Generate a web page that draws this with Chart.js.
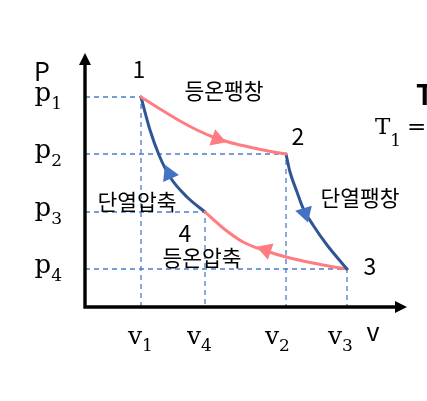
<!DOCTYPE html>
<html><head><meta charset="utf-8">
<script src="https://cdn.jsdelivr.net/npm/chart.js@4/dist/chart.umd.min.js"></script>
<style>html,body{margin:0;padding:0;background:#fff;}canvas{display:block}</style>
</head><body>
<canvas id="c" width="427" height="401"></canvas>
<script>
// ---- data (arbitrary units) ----
const volumeTickNames = ['1', '4', '2', '3'];
const volumeTicks = [5.6, 12.0, 20.1, 26.2];          // v1, v4, v2, v3
const pressureTickNames = ['1', '2', '3', '4'];
const pressureTicks = [21.0, 15.3, 9.5, 3.8];         // p1..p4

const stateNames = ['1', '2', '3', '4'];
const stateV = [5.6, 20.1, 26.2, 12.0];
const stateP = [21.0, 15.3, 3.8, 9.5];

const processNames = ['등온팽창', '단열팽창', '등온압축', '단열압축'];

const isoExpV = [5.6, 7.5, 9.5, 11.2, 12.8, 14.5, 16.2, 17.8, 20.1];
const isoExpP = [21.0, 19.8, 18.6, 17.7, 17.0, 16.45, 16.05, 15.7, 15.3];
const adiExpV = [20.1, 20.5, 21.2, 21.8, 22.8, 24.2, 26.2];
const adiExpP = [15.3, 13.5, 11.5, 9.9, 8.2, 6.2, 3.8];
const isoCmpV = [26.2, 23.8, 20.5, 17.8, 15.8, 13.8, 12.0];
const isoCmpP = [3.8, 4.2, 4.9, 5.7, 6.5, 7.9, 9.5];
const adiCmpV = [12.0, 10.2, 8.5, 7.4, 6.5, 5.6];
const adiCmpP = [9.5, 11.0, 13.0, 15.2, 17.7, 21.0];

// direction markers on each process
const arrowV = [13.2, 22.0, 18.1, 8.4];
const arrowP = [16.8, 9.4, 5.7, 13.3];
const arrowHeading = [109, 163, 289, 336];

// ---- styles ----
const RED = '#FF7C80', BLUE = '#2F5597', ARROWBLUE = '#4472C4', GUIDE = '#4A7EC8';
const SANS = '"Noto Sans CJK KR", "Noto Sans", sans-serif';
const SERIF = '"DejaVu Serif", serif';

const pts = (xs, ys) => xs.map((x, i) => ({x: x, y: ys[i]}));

const datasets = [];
datasets.push({
  data: pts(arrowV, arrowP), showLine: false, order: 0,
  pointStyle: 'triangle', pointRadius: 10, pointRotation: arrowHeading,
  pointBackgroundColor: [RED, ARROWBLUE, RED, ARROWBLUE], pointBorderWidth: 0, pointBorderColor: 'rgba(0,0,0,0)'
});
[[isoExpV, isoExpP, RED], [adiExpV, adiExpP, BLUE], [isoCmpV, isoCmpP, RED], [adiCmpV, adiCmpP, BLUE]].forEach(c => {
  datasets.push({data: pts(c[0], c[1]), showLine: true, borderColor: c[2], borderWidth: 3,
    cubicInterpolationMode: 'monotone', pointRadius: 0, fill: false, order: 1, borderCapStyle: 'round'});
});
for (let i = 0; i < stateV.length; i++) {
  datasets.push({
    data: [{x: 0, y: stateP[i]}, {x: stateV[i], y: stateP[i]}, {x: stateV[i], y: 0}],
    showLine: true, borderColor: GUIDE, borderWidth: 1.3, borderDash: [5, 4],
    tension: 0, pointRadius: 0, fill: false, order: 2
  });
}

function drawSub(ctx, base, sub, x, y, subDy, mainFont, subFont, align) {
  ctx.font = mainFont; const w1 = ctx.measureText(base).width;
  ctx.font = subFont; const w2 = ctx.measureText(sub).width;
  let x0 = x;
  if (align === 'right') x0 = x - w1 - w2;
  if (align === 'center') x0 = x - (w1 + w2) / 2;
  ctx.textAlign = 'left'; ctx.textBaseline = 'alphabetic';
  ctx.font = mainFont; ctx.fillText(base, x0, y);
  ctx.font = subFont; ctx.fillText(sub, x0 + w1, y + subDy);
}

const overlay = {
  id: 'overlay',
  afterDatasetsDraw(chart) {
    const ctx = chart.ctx, a = chart.chartArea;
    ctx.save();
    ctx.strokeStyle = '#000'; ctx.fillStyle = '#000'; ctx.lineWidth = 3.4; ctx.lineJoin = 'miter';
    ctx.beginPath();
    ctx.moveTo(a.left, a.top + 10); ctx.lineTo(a.left, a.bottom); ctx.lineTo(a.right - 10, a.bottom);
    ctx.stroke();
    ctx.beginPath();
    ctx.moveTo(a.left, a.top); ctx.lineTo(a.left - 6, a.top + 12); ctx.lineTo(a.left + 6, a.top + 12); ctx.closePath(); ctx.fill();
    ctx.beginPath();
    ctx.moveTo(a.right, a.bottom); ctx.lineTo(a.right - 12, a.bottom - 6); ctx.lineTo(a.right - 12, a.bottom + 6); ctx.closePath(); ctx.fill();
    ctx.restore();
  },
  afterDraw(chart) {
    const ctx = chart.ctx, xs = chart.scales.x, ys = chart.scales.y;
    ctx.save();
    ctx.fillStyle = '#000';
    // tick labels
    const vDx = [-13, -18, -21, -19];
    for (let i = 0; i < volumeTicks.length; i++) {
      drawSub(ctx, 'v', volumeTickNames[i], xs.getPixelForValue(volumeTicks[i]) + vDx[i], 344, 7,
        '25px ' + SERIF, '17px ' + SERIF, 'left');
    }
    for (let i = 0; i < pressureTicks.length; i++) {
      const y = ys.getPixelForValue(pressureTicks[i]);
      drawSub(ctx, 'p', pressureTickNames[i], 62, y + 3.5, 8, '26px ' + SERIF, '17px ' + SERIF, 'right');
    }
    // axis names
    ctx.textAlign = 'center'; ctx.textBaseline = 'middle';
    ctx.font = '25px ' + SANS;
    ctx.fillText('P', 42, 71);
    ctx.fillText('v', 373, 331);
    // state numbers
    const stateLabelPos = [[139, 69], [298, 136], [370, 266], [185, 233]];
    ctx.font = '23px ' + SANS;
    stateNames.forEach((s, i) => ctx.fillText(s, stateLabelPos[i][0], stateLabelPos[i][1]));
    // process names
    const procPos = [[224, 91], [360, 198], [202, 258], [137, 202]];
    ctx.font = '21.5px ' + SANS;
    processNames.forEach((s, i) => ctx.fillText(s, procPos[i][0], procPos[i][1]));
    // clipped side text
    ctx.textAlign = 'left'; ctx.textBaseline = 'alphabetic';
    ctx.font = 'bold 28px ' + SANS;
    ctx.fillText('T', 416, 105);
    drawSub(ctx, 'T', '1', 375, 134, 12, '23px ' + SERIF, '17px ' + SERIF, 'left');
    ctx.font = '23px ' + SERIF;
    ctx.fillText('=', 407, 134);
    ctx.restore();
  }
};

new Chart(document.getElementById('c'), {
  type: 'scatter',
  data: {datasets: datasets},
  options: {
    responsive: false, animation: false, devicePixelRatio: 1,
    layout: {padding: {left: 85, top: 53, right: 20, bottom: 94}},
    scales: {
      x: {type: 'linear', min: 0, max: 32.2, display: false},
      y: {type: 'linear', min: 0, max: 25.4, display: false}
    },
    plugins: {legend: {display: false}, tooltip: {enabled: false}},
    elements: {line: {borderJoinStyle: 'round'}}
  },
  plugins: [overlay]
});
</script>
</body></html>
